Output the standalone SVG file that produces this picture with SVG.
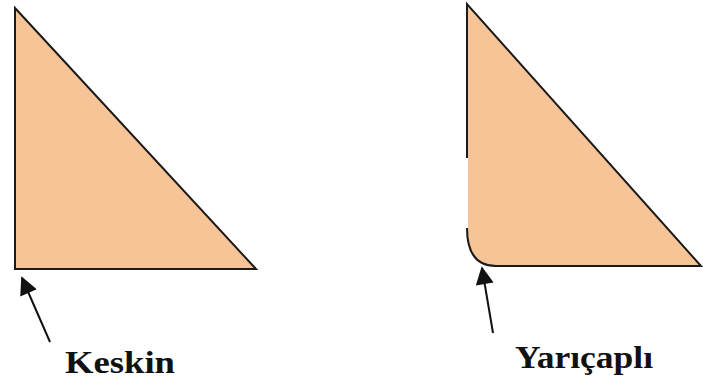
<svg xmlns="http://www.w3.org/2000/svg" width="703" height="381" viewBox="0 0 703 381">
<style>
.fill{fill:#F6C497;stroke:none}
.edge{fill:none;stroke:#1a1a1a;stroke-width:2;stroke-linejoin:miter}
.lbl{font-family:"Liberation Serif","Times New Roman",serif;font-weight:bold;font-size:31px;fill:#111}
.arr{stroke:#111;stroke-width:2;fill:none}
</style>
<defs>
<marker id="ah" viewBox="0 0 10 10" refX="9" refY="5" markerWidth="10" markerHeight="9" orient="auto" markerUnits="strokeWidth">
<path d="M0,0 L10,5 L0,10 z" fill="#111"/>
</marker>
</defs>
<rect width="703" height="381" fill="#fff"/>
<g id="keskin">
<path class="fill" d="M15,8 L256,269 L15,269 Z"/>
<path class="edge" d="M15,8 L256,269 L15,269 Z"/>
<text class="lbl" x="65" y="373" textLength="110" lengthAdjust="spacingAndGlyphs">Keskin</text>
</g>
<g id="yaricapli">
<path class="fill" d="M467,4 L701,266 L496,266 C478,266 467,255 467,228 Z"/>
<path class="edge" d="M467,158 L467,4 L701,266 L496,266 C478,266 467,255 467,228"/>
<line x1="467" y1="158" x2="467" y2="228" stroke="#fff" stroke-width="2"/>
<text class="lbl" x="515" y="368" textLength="138" lengthAdjust="spacingAndGlyphs">Yarıçaplı</text>
</g>
<g id="connectors">
<line class="arr" x1="50" y1="342" x2="22" y2="278" marker-end="url(#ah)"/>
<line class="arr" x1="493" y1="333" x2="482" y2="268" marker-end="url(#ah)"/>
</g>
</svg>
